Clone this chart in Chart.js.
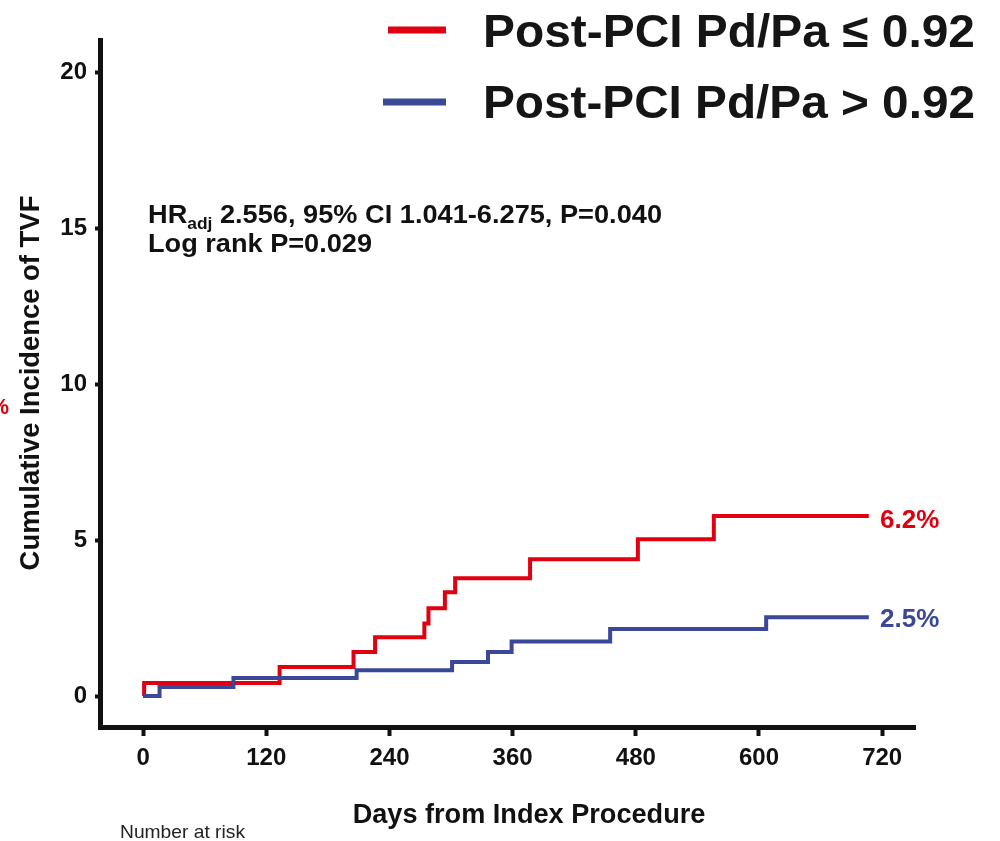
<!DOCTYPE html>
<html>
<head>
<meta charset="utf-8">
<script src="https://cdn.jsdelivr.net/npm/chart.js@4.4.1/dist/chart.umd.min.js"></script>
<style>
  html, body { margin: 0; padding: 0; background: #ffffff; }
  #wrap { width: 1000px; height: 841px; position: relative; }
</style>
</head>
<body>
<div id="wrap"><canvas id="c" width="1000" height="841"></canvas></div>
<script>
// ---- data ----
const redLabel = "Post-PCI Pd/Pa \u2264 0.92";
const blueLabel = "Post-PCI Pd/Pa > 0.92";
const redDays   = [0, 1, 133, 205, 226, 274, 278, 294, 304, 377, 482, 556, 707];
const redValues = [0, 0.42, 0.93, 1.41, 1.89, 2.33, 2.82, 3.33, 3.78, 4.39, 5.03, 5.77, 5.77];
const blueDays   = [0, 16, 88, 208, 301, 336, 359, 455, 607, 707];
const blueValues = [0, 0.29, 0.58, 0.83, 1.09, 1.41, 1.75, 2.15, 2.53, 2.53];
const xTickValues = [0, 120, 240, 360, 480, 600, 720];
const yTickValues = [0, 5, 10, 15, 20];
const redEndLabel = "6.2%";
const blueEndLabel = "2.5%";
const statLine1Main = "HR";
const statLine1Sub = "adj";
const statLine1Rest = " 2.556, 95% CI 1.041-6.275, P=0.040";
const statLine2 = "Log rank P=0.029";
const yTitle = "Cumulative Incidence of TVF";
const xTitle = "Days from Index Procedure";
const riskTitle = "Number at risk";

const RED = '#e0000f';
const BLUE = '#3a4897';
const FAM = '"Liberation Sans", Arial, sans-serif';

function fitFont(ctx, text, weight, target) {
  ctx.font = weight + ' 100px ' + FAM;
  const w = ctx.measureText(text).width;
  return 100 * target / w;
}

// draw text at a given font size, scaled horizontally to a target width
function drawSqueezed(ctx, text, weight, size, x, y, targetW) {
  ctx.font = weight + ' ' + size + 'px ' + FAM;
  const w = ctx.measureText(text).width;
  ctx.save();
  ctx.translate(x, y);
  ctx.scale(targetW / w, 1);
  ctx.fillText(text, 0, 0);
  ctx.restore();
}

const overlay = {
  id: 'overlay',
  afterDraw(chart) {
    const ctx = chart.ctx;
    ctx.save();
    // legend
    ctx.lineCap = 'butt';
    ctx.lineWidth = 7;
    ctx.strokeStyle = RED;
    ctx.beginPath(); ctx.moveTo(388, 30); ctx.lineTo(446, 30); ctx.stroke();
    ctx.strokeStyle = BLUE;
    ctx.beginPath(); ctx.moveTo(383, 102); ctx.lineTo(446, 102); ctx.stroke();
    ctx.fillStyle = '#151515';
    ctx.textBaseline = 'alphabetic';
    ctx.textAlign = 'left';
    drawSqueezed(ctx, redLabel, 'bold', 47, 483, 47, 492);
    drawSqueezed(ctx, blueLabel, 'bold', 47, 483, 118, 492);

    // stats text
    ctx.fillStyle = '#111';
    const size = 25, subSize = 16;
    ctx.font = 'bold ' + size + 'px ' + FAM;
    const wMain = ctx.measureText(statLine1Main).width;
    const wRest = ctx.measureText(statLine1Rest).width;
    ctx.font = 'bold ' + subSize + 'px ' + FAM;
    const wSub = ctx.measureText(statLine1Sub).width;
    const k = 514 / (wMain + wSub + wRest);
    ctx.save();
    ctx.translate(148, 0);
    ctx.scale(k, 1);
    ctx.font = 'bold ' + size + 'px ' + FAM;
    ctx.fillText(statLine1Main, 0, 223);
    ctx.font = 'bold ' + subSize + 'px ' + FAM;
    ctx.fillText(statLine1Sub, wMain, 229);
    ctx.font = 'bold ' + size + 'px ' + FAM;
    ctx.fillText(statLine1Rest, wMain + wSub, 223);
    ctx.restore();
    drawSqueezed(ctx, statLine2, 'bold', size, 148, 252, 224);

    // end labels
    ctx.font = 'bold 26px ' + FAM;
    ctx.textBaseline = 'middle';
    ctx.fillStyle = RED;
    ctx.fillText(redEndLabel, 880, 521);
    ctx.fillStyle = BLUE;
    ctx.fillText(blueEndLabel, 880, 620);

    // red cropped % at left edge
    ctx.fillStyle = RED;
    ctx.font = 'bold 22px ' + FAM;
    ctx.textAlign = 'right';
    ctx.fillText('%', 9, 408);

    // axis titles
    ctx.fillStyle = '#111';
    ctx.textAlign = 'center';
    let s = fitFont(ctx, xTitle, 'bold', 353);
    ctx.font = 'bold ' + s + 'px ' + FAM;
    ctx.fillText(xTitle, 529, 816);

    ctx.save();
    ctx.translate(31, 383);
    ctx.rotate(-Math.PI / 2);
    s = fitFont(ctx, yTitle, 'bold', 375);
    ctx.font = 'bold ' + s + 'px ' + FAM;
    ctx.fillText(yTitle, 0, 0);
    ctx.restore();

    ctx.textAlign = 'left';
    ctx.fillStyle = '#222';
    drawSqueezed(ctx, riskTitle, 'normal', 19, 120, 833, 125);

    ctx.restore();
  }
};

const ctx = document.getElementById('c').getContext('2d');
new Chart(ctx, {
  type: 'line',
  data: {
    datasets: [
      {
        label: blueLabel,
        data: blueDays.map((d, i) => ({ x: d, y: blueValues[i] })),
        borderColor: BLUE,
        borderWidth: 4,
        stepped: true,
        pointRadius: 0,
        fill: false
      },
      {
        label: redLabel,
        data: redDays.map((d, i) => ({ x: d, y: redValues[i] })),
        borderColor: RED,
        borderWidth: 4,
        stepped: true,
        pointRadius: 0,
        fill: false
      }
    ]
  },
  options: {
    responsive: false,
    animation: false,
    devicePixelRatio: 1,
    layout: { padding: { left: 0, right: 85, top: 40, bottom: 54 } },
    plugins: { legend: { display: false }, tooltip: { enabled: false } },
    scales: {
      x: {
        type: 'linear',
        min: -42,
        max: 752,
        afterFit(s) { s.height = 60; },
        afterBuildTicks(s) { s.ticks = xTickValues.map(v => ({ value: v })); },
        grid: { display: true, drawOnChartArea: false, drawTicks: true, tickLength: 9, tickColor: '#111', tickWidth: 4 },
        border: { display: true, color: '#111', width: 5 },
        ticks: { color: '#111', padding: 8, maxRotation: 0, autoSkip: false, font: { family: FAM, size: 24, weight: 'bold' } }
      },
      y: {
        type: 'linear',
        min: -0.99,
        max: 21.03,
        afterFit(s) { s.width = 100; },
        afterBuildTicks(s) { s.ticks = yTickValues.map(v => ({ value: v })); },
        grid: { display: true, drawOnChartArea: false, drawTicks: true, tickLength: 5, tickColor: '#111', tickWidth: 4 },
        border: { display: true, color: '#111', width: 5 },
        ticks: { color: '#111', padding: 8, font: { family: FAM, size: 24, weight: 'bold' } }
      }
    }
  },
  plugins: [overlay]
});
</script>
</body>
</html>
